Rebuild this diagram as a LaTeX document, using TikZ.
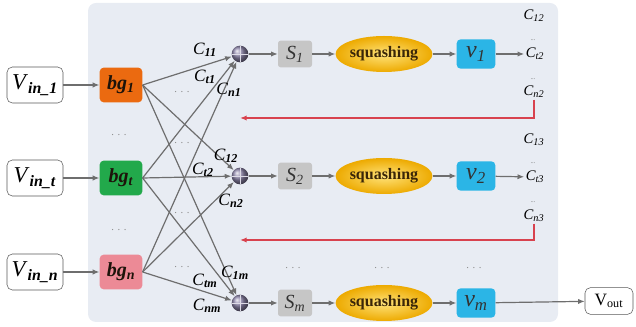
\documentclass[tikz,border=0pt]{standalone}
\usepackage{fontspec}
\setmainfont{Liberation Serif}
\RequirePackage{xcolor}
\definecolor{panelgray}{HTML}{E8ECF3}
\definecolor{bgorange}{HTML}{EB6A10}
\definecolor{bggreen}{HTML}{22A94B}
\definecolor{bgpink}{HTML}{EC8A96}
\definecolor{sgray}{HTML}{C6C6C6}
\definecolor{vcyan}{HTML}{2BB5E6}
\definecolor{fbred}{HTML}{D8424E}
\definecolor{linegray}{HTML}{6E6E6E}
\definecolor{sumpurple}{HTML}{8F87AC}
\definecolor{sqinner}{HTML}{FFE37A}
\definecolor{sqouter}{HTML}{EDAA00}
\definecolor{sqtext}{HTML}{3A2608}
\usetikzlibrary{arrows.meta}
\usetikzlibrary{shapes.geometric}
\usetikzlibrary{positioning}

\tikzset{
  inbox/.style={draw=black!65, fill=white, rounded corners=4pt, minimum width=42pt, minimum height=27pt, inner sep=1pt, font=\fontsize{17}{20}\selectfont},
  bgbox/.style={rounded corners=3pt, minimum width=32pt, minimum height=26pt, inner sep=1pt, text=black!85!brown, font=\fontsize{15}{18}\selectfont\bfseries\itshape},
  sumnode/.style={circle, minimum size=12.5pt, inner sep=0pt, shading=ball, ball color=sumpurple,
    path picture={\draw[white!70!sumpurple, line width=0.4pt] (path picture bounding box.north) -- (path picture bounding box.south) (path picture bounding box.west) -- (path picture bounding box.east);}},
  sbox/.style={fill=sgray, rounded corners=2pt, minimum width=25.5pt, minimum height=20pt, inner sep=1pt, text=black!80, font=\fontsize{15}{18}\selectfont\itshape},
  squash/.style={ellipse, minimum width=67pt, minimum height=27pt, inner sep=0pt, inner color=sqinner, outer color=sqouter, text=sqtext, font=\fontsize{12}{14}\selectfont\bfseries},
  vbox/.style={fill=vcyan, rounded corners=3pt, minimum width=29pt, minimum height=22pt, inner sep=1pt, text=black!80, font=\fontsize{18}{20}\selectfont\itshape},
  wlabel/.style={inner sep=0pt, font=\fontsize{13}{15}\selectfont\itshape},
  clabel/.style={inner sep=1pt, font=\fontsize{11}{13}\selectfont\itshape},
  dotsnode/.style={inner sep=0pt, text=black!45, font=\fontsize{8}{8}\selectfont},
  tinydots/.style={inner sep=0pt, text=black!55, font=\fontsize{5}{5}\selectfont},
  link/.style={draw=linegray, line width=0.9pt, -{Latex[length=5pt,width=4pt]}},
  feedback/.style={draw=fbred, line width=1.2pt, -{Latex[length=5pt,width=4pt]}}
}

\begin{document}
\begin{tikzpicture}[x=0.75pt, y=-0.75pt]
  \useasboundingbox (0,0) rectangle (636,327);
  \fill [panelgray, rounded corners=6pt] (88,3) rectangle (558,322);

  % inputs and bg units
  \node [inbox] (vin1) at (35,85) {\textit{V}\textsubscript{\textbf{\textit{in\_1}}}};
  \node [inbox] (vint) at (35,178) {\textit{V}\textsubscript{\textbf{\textit{in\_t}}}};
  \node [inbox] (vinn) at (35,272) {\textit{V}\textsubscript{\textbf{\textit{in\_n}}}};

  \node [bgbox, fill=bgorange] (bg1) at (121,85) {bg\textsubscript{1}};
  \node [bgbox, fill=bggreen] (bgt) at (121,178) {bg\textsubscript{t}};
  \node [bgbox, fill=bgpink] (bgn) at (121,272) {bg\textsubscript{n}};

  \draw [link] (vin1) -- (bg1);
  \draw [link] (vint) -- (bgt);
  \draw [link] (vinn) -- (bgn);

  \node [dotsnode] (ldots1) at (119,135) {. . .};
  \node [dotsnode] (ldots2) at (119,230) {. . .};

  % rows
  \node [sumnode] (sum1) at (240,54) {};
  \node [sumnode] (sum2) at (240,176) {};
  \node [sumnode] (summ) at (240,303) {};

  \node [sbox] (s1) at (295,54) {S\textsubscript{1}};
  \node [sbox] (s2) at (295,176) {S\textsubscript{2}};
  \node [sbox] (sm) at (295,303) {S\textsubscript{m}};

  \node [squash] (sq1) at (384,54) {squashing};
  \node [squash] (sq2) at (384,176) {squashing};
  \node [squash] (sqm) at (384,303) {squashing};

  \node [vbox] (v1) at (476,54) {v\textsubscript{1}};
  \node [vbox] (v2) at (476,176) {v\textsubscript{2}};
  \node [vbox] (vm) at (476,303) {v\textsubscript{m}};

  \draw [link] (sum1) -- (s1);
  \draw [link] (s1) -- (sq1);
  \draw [link] (sq1) -- (v1);
  \draw [link] (sum2) -- (s2);
  \draw [link] (s2) -- (sq2);
  \draw [link] (sq2) -- (v2);
  \draw [link] (summ) -- (sm);
  \draw [link] (sm) -- (sqm);
  \draw [link] (sqm) -- (vm);

  \node [dotsnode] (rdots1) at (293,268) {. . .};
  \node [dotsnode] (rdots2) at (382,268) {. . .};
  \node [dotsnode] (rdots3) at (474,268) {. . .};

  % weights
  \draw [link] (bg1.east) -- (sum1);
  \draw [link] (bgt.east) -- (sum1);
  \draw [link] (bgn.east) -- (sum1);
  \draw [link] (bg1.east) -- (sum2);
  \draw [link] (bgt.east) -- (sum2);
  \draw [link] (bgn.east) -- (sum2);
  \draw [link] (bg1.east) -- (summ);
  \draw [link] (bgt.east) -- (summ);
  \draw [link] (bgn.east) -- (summ);

  \node [wlabel] (w11) at (205,50) {C\textsubscript{\textbf{11}}};
  \node [wlabel] (wt1) at (205,77) {C\textsubscript{\textbf{t1}}};
  \node [wlabel] (wn1) at (229,90) {C\textsubscript{\textbf{n1}}};
  \node [wlabel] (w12) at (226,156) {C\textsubscript{\textbf{12}}};
  \node [wlabel] (wt2) at (203,170) {C\textsubscript{\textbf{t2}}};
  \node [wlabel] (wn2) at (231,201) {C\textsubscript{\textbf{n2}}};
  \node [wlabel] (w1m) at (235,273) {C\textsubscript{\textbf{1m}}};
  \node [wlabel] (wtm) at (205,281) {C\textsubscript{\textbf{tm}}};
  \node [wlabel] (wnm) at (207,306) {C\textsubscript{\textbf{nm}}};

  \node [dotsnode] (cdots1) at (182,92) {. . .};
  \node [dotsnode] (cdots2) at (182,143) {. . .};
  \node [dotsnode] (cdots3) at (182,213) {. . .};
  \node [dotsnode] (cdots4) at (182,267) {. . .};

  % outputs
  \node [clabel] (c12) at (534,16) {C\textsubscript{12}};
  \node [tinydots] (d12) at (533,40) {...};
  \node [clabel] (ct2) at (535,54) {C\textsubscript{t2}};
  \node [tinydots] (dt2) at (533,79) {...};
  \node [clabel] (cn2) at (534,92) {C\textsubscript{n2}};

  \node [clabel] (c13) at (534,140) {C\textsubscript{13}};
  \node [tinydots] (d13) at (533,163) {...};
  \node [clabel] (ct3) at (535,177) {C\textsubscript{t3}};
  \node [tinydots] (dt3) at (533,202) {...};
  \node [clabel] (cn3) at (534,216) {C\textsubscript{n3}};

  \draw [link] (v1) -- (ct2);
  \draw [link] (v2) -- (ct3);

  \coordinate (fb1) at (240,118);
  \coordinate (fb2) at (240,240);
  \draw [feedback] (cn2.south) |- (fb1);
  \draw [feedback] (cn3.south) |- (fb2);

  \node [inbox, minimum width=36pt, minimum height=20pt, font=\fontsize{13}{15}\selectfont] (vout) at (609,301) {V\textsubscript{out}};
  \draw [link] (vm) -- (vout);
\end{tikzpicture}
\end{document}
